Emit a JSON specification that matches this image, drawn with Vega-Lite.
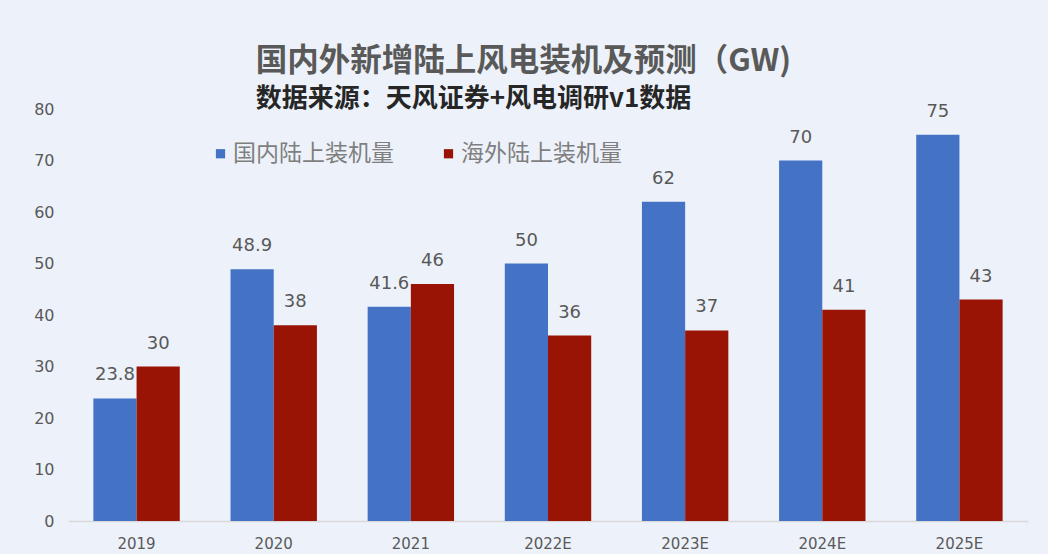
{
  "$schema": "https://vega.github.io/schema/vega-lite/v6.json",
  "width": 960,
  "height": 412,
  "background": "#EDF2FA",
  "padding": {"left": 33, "top": 45, "right": 20, "bottom": 5},
  "config": {"view": {"stroke": null}},
  "title": {
    "text": "国内外新增陆上风电装机及预测（GW)",
    "subtitle": "数据来源：天风证券+风电调研v1数据",
    "anchor": "start",
    "dx": 222,
    "font": "Noto Sans CJK SC",
    "fontSize": 31.5,
    "fontWeight": "bold",
    "color": "#595959",
    "subtitleFont": "Noto Sans CJK SC",
    "subtitleFontSize": 26,
    "subtitleFontWeight": "bold",
    "subtitleColor": "#262626",
    "subtitlePadding": 9,
    "offset": -11
  },
  "data": {
    "values": [
      {"year": "2019", "series": "国内陆上装机量", "value": 23.8},
      {"year": "2019", "series": "海外陆上装机量", "value": 30},
      {"year": "2020", "series": "国内陆上装机量", "value": 48.9},
      {"year": "2020", "series": "海外陆上装机量", "value": 38},
      {"year": "2021", "series": "国内陆上装机量", "value": 41.6},
      {"year": "2021", "series": "海外陆上装机量", "value": 46},
      {"year": "2022E", "series": "国内陆上装机量", "value": 50},
      {"year": "2022E", "series": "海外陆上装机量", "value": 36},
      {"year": "2023E", "series": "国内陆上装机量", "value": 62},
      {"year": "2023E", "series": "海外陆上装机量", "value": 37},
      {"year": "2024E", "series": "国内陆上装机量", "value": 70},
      {"year": "2024E", "series": "海外陆上装机量", "value": 41},
      {"year": "2025E", "series": "国内陆上装机量", "value": 75},
      {"year": "2025E", "series": "海外陆上装机量", "value": 43}
    ]
  },
  "encoding": {
    "x": {
      "field": "year",
      "type": "nominal",
      "sort": null,
      "scale": {"paddingInner": 0.37, "paddingOuter": 0.185},
      "axis": {
        "title": null,
        "labelAngle": 0,
        "labelFont": "DejaVu Sans",
        "labelFontSize": 15,
        "labelColor": "#595959",
        "labelPadding": 15,
        "ticks": false,
        "domainColor": "#D9D9D9",
        "domainWidth": 1.5
      }
    },
    "xOffset": {
      "field": "series",
      "type": "nominal",
      "sort": ["国内陆上装机量", "海外陆上装机量"],
      "scale": {"paddingInner": 0, "paddingOuter": 0}
    },
    "y": {
      "field": "value",
      "type": "quantitative",
      "scale": {"domain": [0, 80], "nice": false},
      "axis": {
        "title": null,
        "values": [0, 10, 20, 30, 40, 50, 60, 70, 80],
        "grid": false,
        "domain": false,
        "ticks": false,
        "labelFont": "DejaVu Sans",
        "labelFontSize": 16,
        "labelColor": "#595959",
        "labelPadding": 14
      }
    }
  },
  "layer": [
    {
      "mark": {"type": "bar"},
      "encoding": {
        "color": {
          "field": "series",
          "type": "nominal",
          "scale": {"domain": ["国内陆上装机量", "海外陆上装机量"], "range": ["#4472C4", "#991405"]},
          "legend": {
            "title": null,
            "orient": "none",
            "direction": "horizontal",
            "legendX": 141,
            "legendY": 33,
            "symbolType": "square",
            "symbolSize": 85,
            "symbolStrokeWidth": 0,
            "labelFont": "Noto Sans CJK SC",
            "labelFontSize": 23,
            "labelLimit": 400,
            "labelColor": "#7F7F7F",
            "labelOffset": 1,
            "columnPadding": 43
          }
        }
      }
    },
    {
      "mark": {"type": "text", "baseline": "alphabetic", "dy": -18, "font": "DejaVu Sans", "fontSize": 18, "color": "#595959"},
      "encoding": {
        "text": {"field": "value", "type": "quantitative"}
      }
    }
  ]
}
